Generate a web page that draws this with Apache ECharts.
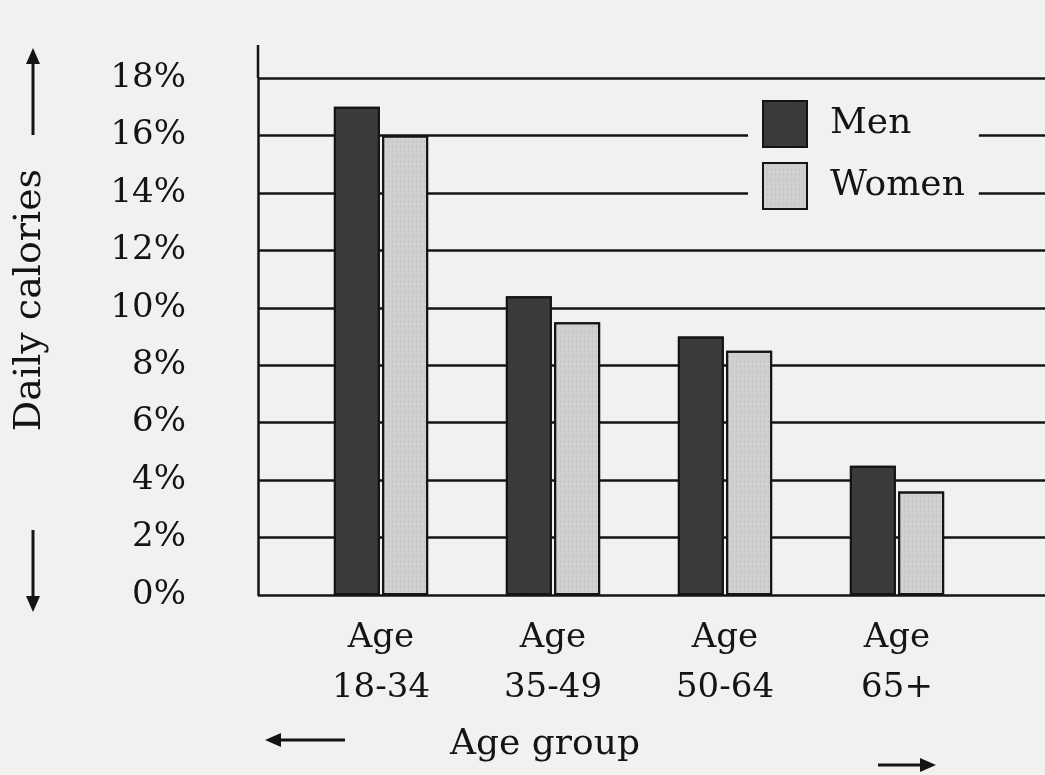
<!DOCTYPE html>
<html>
<head>
<meta charset="utf-8">
<script src="https://cdn.jsdelivr.net/npm/echarts@6/dist/echarts.min.js"></script>
<style>
  html, body { margin: 0; padding: 0; background: #f1f1ef; }
  #chart { width: 1045px; height: 775px; }
</style>
</head>
<body>
<div id="chart"></div>
<script>
// values
var ageGroups = ['Age\n18-34', 'Age\n35-49', 'Age\n50-64', 'Age\n65+'];
var men = [17, 10.4, 9, 4.5];
var women = [16, 9.5, 8.5, 3.6];
var yMin = 0, yMax = 18, yStep = 2;

var serif = '"DejaVu Serif", "Liberation Serif", serif';
var ink = '#141414';

var myChart = echarts.init(document.getElementById('chart'));

function arrow(x1, y1, x2, y2) {
    // shaft + head, head at (x2, y2)
    var a = Math.atan2(y2 - y1, x2 - x1);
    var len = 16, w = 7;
    var bx = x2 - len * Math.cos(a), by = y2 - len * Math.sin(a);
    return [
        { type: 'line', shape: { x1: x1, y1: y1, x2: bx, y2: by }, style: { stroke: ink, lineWidth: 3 } },
        { type: 'polygon', shape: { points: [
            [x2, y2],
            [bx + w * Math.sin(a), by - w * Math.cos(a)],
            [bx - w * Math.sin(a), by + w * Math.cos(a)]
        ] }, style: { fill: ink } }
    ];
}

var option = {
    backgroundColor: '#f1f1ef',
    animation: false,
    grid: [
        { left: 258, right: 0, top: 78, bottom: 180 },
        { left: 295, width: 688, top: 78, bottom: 180 }
    ],
    legend: {
        orient: 'vertical',
        left: 748,
        top: 92,
        icon: 'rect',
        itemWidth: 44,
        itemHeight: 46,
        itemGap: 14,
        padding: [8, 14, 8, 14],
        backgroundColor: '#f1f1ef',
        textStyle: { fontFamily: serif, fontSize: 36, color: ink, padding: [0, 0, 0, 18] },
        data: ['Men', 'Women']
    },
    xAxis: [
        { type: 'value', gridIndex: 0, show: false, min: 0, max: 1 },
        {
            type: 'category', gridIndex: 1, data: ageGroups,
            axisLine: { show: false }, axisTick: { show: false },
            axisLabel: { fontFamily: serif, fontSize: 34, lineHeight: 50, color: ink, margin: 18 }
        }
    ],
    yAxis: [
        {
            type: 'value', gridIndex: 0, min: yMin, max: yMax, interval: yStep,
            axisLine: { show: true, lineStyle: { color: ink, width: 2.5 } },
            axisTick: { show: false },
            axisLabel: { formatter: '{value}%', fontFamily: serif, fontSize: 34, color: ink, margin: 72 },
            splitLine: { show: true, lineStyle: { color: ink, width: 2.5 } }
        },
        {
            type: 'value', gridIndex: 1, min: yMin, max: yMax, interval: yStep, show: false,
            splitLine: { show: false }
        }
    ],
    series: [
        {
            name: 'Men', type: 'bar', xAxisIndex: 1, yAxisIndex: 1, data: men,
            barWidth: 46, barGap: '5%',
            itemStyle: {
                color: '#3a3a3a', borderColor: ink, borderWidth: 2,
                decal: { symbol: 'rect', symbolSize: 0.6, color: 'rgba(90,90,90,0.35)', dashArrayX: [1, 2], dashArrayY: [2, 3], rotation: 0.6 }
            }
        },
        {
            name: 'Women', type: 'bar', xAxisIndex: 1, yAxisIndex: 1, data: women,
            barWidth: 46,
            itemStyle: {
                color: '#d0d0ce', borderColor: ink, borderWidth: 2,
                decal: { symbol: 'rect', symbolSize: 0.5, color: 'rgba(60,60,60,0.25)', dashArrayX: [1, 3], dashArrayY: [3, 2] }
            }
        }
    ],
    graphic: [
        { type: 'line', shape: { x1: 258, y1: 45, x2: 258, y2: 78 }, style: { stroke: ink, lineWidth: 2.5 } },
        { type: 'text', x: 30, y: 300, rotation: Math.PI / 2,
          style: { text: 'Daily calories', fontFamily: serif, fontSize: 38, fill: ink, align: 'center', verticalAlign: 'middle' } },
        { type: 'text', x: 545, y: 745,
          style: { text: 'Age group', fontFamily: serif, fontSize: 36, fill: ink, align: 'center', verticalAlign: 'middle' } }
    ].concat(arrow(33, 135, 33, 48), arrow(33, 530, 33, 612), arrow(345, 740, 265, 740), arrow(878, 765, 936, 765))
};

myChart.setOption(option);
</script>
</body>
</html>
